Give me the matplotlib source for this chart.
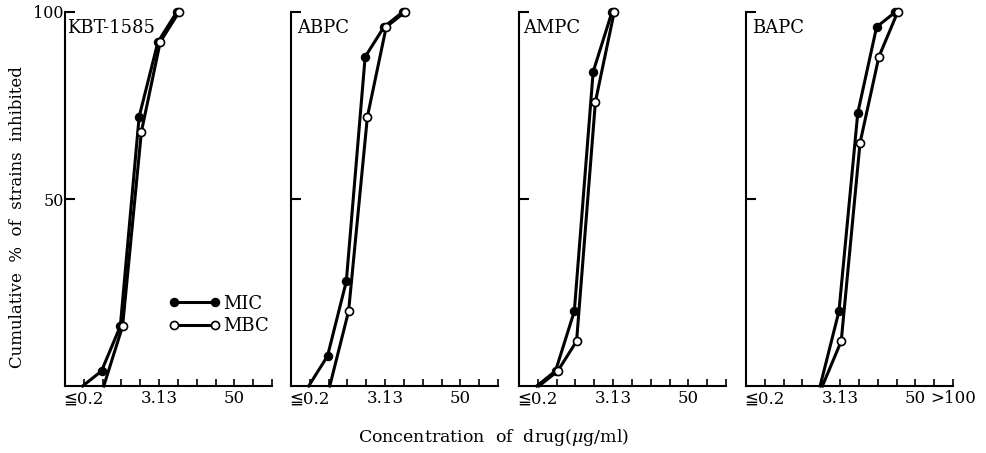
import matplotlib
matplotlib.use("Agg")
import matplotlib.pyplot as plt
from matplotlib.lines import Line2D

plt.rcParams['font.family'] = ['DejaVu Serif', 'DejaVu Sans']
plt.rcParams['mathtext.fontset'] = 'dejavuserif'

# concentration steps (ug/ml), one per x position 1..11
concs = ['0.2', '0.39', '0.78', '1.56', '3.13', '6.25', '12.5', '25', '50', '100', '>100']
shown = ['≦0.2', '3.13', '50']

drugs = ['KBT-1585', 'ABPC', 'AMPC', 'BAPC']

kbt_mic_c = ['0.2', '0.39', '0.78', '1.56', '3.13', '6.25']
kbt_mic_p = [0, 4, 16, 72, 92, 100]
kbt_mbc_c = ['0.39', '0.78', '1.56', '3.13', '6.25']
kbt_mbc_p = [0, 16, 68, 92, 100]

abpc_mic_c = ['0.2', '0.39', '0.78', '1.56', '3.13', '6.25']
abpc_mic_p = [0, 8, 28, 88, 96, 100]
abpc_mbc_c = ['0.39', '0.78', '1.56', '3.13', '6.25']
abpc_mbc_p = [0, 20, 72, 96, 100]

ampc_mic_c = ['0.2', '0.39', '0.78', '1.56', '3.13']
ampc_mic_p = [0, 4, 20, 84, 100]
ampc_mbc_c = ['0.2', '0.39', '0.78', '1.56', '3.13']
ampc_mbc_p = [0, 4, 12, 76, 100]

bapc_mic_c = ['1.56', '3.13', '6.25', '12.5', '25']
bapc_mic_p = [0, 20, 73, 96, 100]
bapc_mbc_c = ['1.56', '3.13', '6.25', '12.5', '25']
bapc_mbc_p = [0, 12, 65, 88, 100]

mic_c = [kbt_mic_c, abpc_mic_c, ampc_mic_c, bapc_mic_c]
mic_p = [kbt_mic_p, abpc_mic_p, ampc_mic_p, bapc_mic_p]
mbc_c = [kbt_mbc_c, abpc_mbc_c, ampc_mbc_c, bapc_mbc_c]
mbc_p = [kbt_mbc_p, abpc_mbc_p, ampc_mbc_p, bapc_mbc_p]


def xpos(cs):
    return [concs.index(c) + 1 for c in cs]


W, H = 987, 453
fig = plt.figure(figsize=(W / 100, H / 100), dpi=100)

lefts = [65, 291, 519, 746]
label_x = [0.01, 0.03, 0.02, 0.03]
dodge = 0.06  # small sideways shift so both markers stay visible

for i, left in enumerate(lefts):
    ax = fig.add_axes([left / W, 1 - 386 / H, 207 / W, 374 / H])
    for s in ['top', 'right']:
        ax.spines[s].set_visible(False)
    for s in ['left', 'bottom']:
        ax.spines[s].set_linewidth(1.5)

    ax.plot([x - dodge for x in xpos(mic_c[i])], mic_p[i], color='k', lw=2.2,
            marker='o', ms=5.8, mfc='k', mec='k', markevery=slice(1, None),
            clip_on=False, zorder=3)
    ax.plot([x + dodge for x in xpos(mbc_c[i])], mbc_p[i], color='k', lw=2.2,
            marker='o', ms=5.8, mfc='white', mec='k', mew=1.2,
            markevery=slice(1, None), clip_on=False, zorder=4)

    ax.set_xlim(0, 11)
    ax.set_ylim(0, 100)

    labels = ['' for _ in concs]
    labels[0] = shown[0]
    labels[concs.index('3.13')] = shown[1]
    labels[concs.index('50')] = shown[2]
    if i == 3:
        labels[-1] = '>100'
    ax.set_xticks(range(1, len(concs) + 1))
    ax.set_xticklabels(labels, fontsize=12)
    ax.tick_params(axis='x', direction='in', length=5, width=1.2, pad=3)

    ax.set_yticks([50, 100])
    if i == 0:
        ax.set_yticklabels(['50', '100'], fontsize=11.5)
    else:
        ax.set_yticklabels(['', ''])
    ax.tick_params(axis='y', direction='in', length=7, width=1.5, pad=1)

    ax.text(label_x[i], 0.958, drugs[i], transform=ax.transAxes,
            ha='left', va='center', fontsize=13)

    if i == 0:
        handles = [
            Line2D([], [], color='k', lw=2.2, marker='o', ms=5.8, mfc='k', mec='k'),
            Line2D([], [], color='k', lw=2.2, marker='o', ms=5.8, mfc='white',
                   mec='k', mew=1.2),
        ]
        ax.legend(handles, ['MIC', 'MBC'], loc='center left',
                  bbox_to_anchor=(0.5, 0.19), frameon=False, numpoints=2,
                  handlelength=2.9, handletextpad=0.15, labelspacing=0.25,
                  borderpad=0, borderaxespad=0, fontsize=13)

fig.text(18 / W, 1 - 217 / H, 'Cumulative  %  of  strains  inhibited',
         rotation=90, ha='center', va='center', fontsize=12)
fig.text(494 / W, 1 - 437 / H, 'Concentration  of  drug($\\mu$g/ml)',
         ha='center', va='center', fontsize=12.5)

fig.savefig('out.png', dpi=100)
